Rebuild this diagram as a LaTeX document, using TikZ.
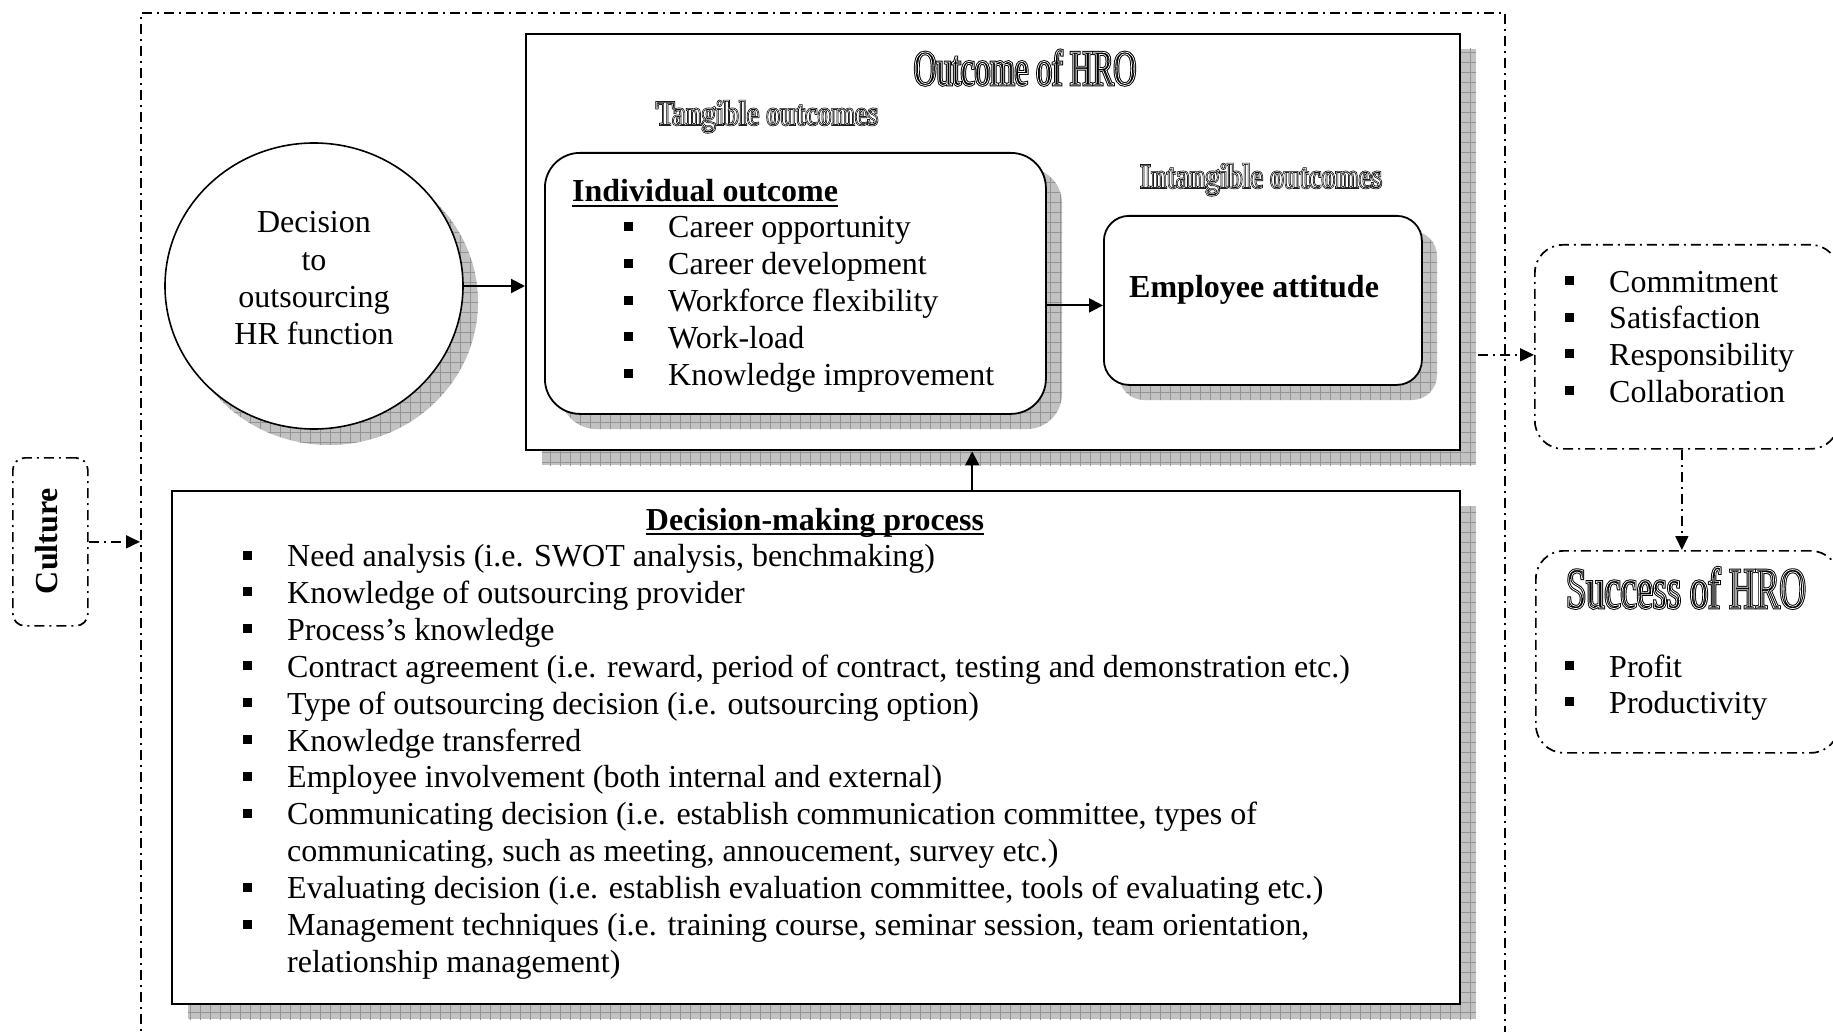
\documentclass[tikz,border=0pt]{standalone}
\usepackage{fontspec}
\setmainfont{Liberation Serif}
\newfontfamily\titlereg[FakeStretch=0.625]{Liberation Serif}
\newfontfamily\titlebold[FakeStretch=0.8]{Liberation Serif}
\usetikzlibrary{shapes.geometric,arrows.meta,patterns.meta}

% small square bullet followed by the gap before the item text
\newcommand\sqbullet{\makebox[44pt][l]{\rule[7pt]{9pt}{9pt}}}
\newcommand\noindentitem{\makebox[44pt][l]{}}
% thick underline
\newcommand\thickul[1]{\setbox0=\hbox{#1}\rlap{\rule[-5pt]{\wd0}{2pt}}\box0}
% hollow letters with a double contour: #1 outer stroke, #2 inner white stroke, #3 text
\newcommand\hollowtext[3]{\rlap{\color{white}\special{pdf:literal direct 2 Tr #1 w 0 G}#3\special{pdf:literal direct 0 Tr}}{\color{white}\special{pdf:literal direct 1 Tr #2 w 1 G}#3\special{pdf:literal direct 0 Tr}}}
\newcommand\hollow[1]{\hollowtext{2.6}{0.7}{#1}}
\newcommand\hollowsmall[1]{\hollowtext{1.8}{0.45}{#1}}

\begin{document}
\begin{tikzpicture}[x=1pt,y=-1pt,
  body/.style={inner sep=0pt, anchor=base west, font=\fontsize{32}{37}\selectfont},
  bodyc/.style={body, anchor=base},
  box/.style={draw, line width=2.4pt, fill=white, inner sep=0pt, anchor=north west},
  rbox/.style={draw, line width=1.8pt, fill=white, inner sep=0pt, anchor=north west},
  ddline/.style={line width=1.7pt, dash pattern=on 10pt off 5pt on 2pt off 5pt},
  ddbox/.style={draw, ddline, inner sep=0pt, anchor=north west},
  gridshadow/.style={fill=black!24,
    postaction={pattern={Lines[distance=10pt,angle=0,line width=0.7pt]},pattern color=black!42},
    postaction={pattern={Lines[distance=10pt,angle=90,line width=0.7pt]},pattern color=black!42}},
  arr/.style={line width=2pt, -{Triangle[length=14pt,width=14pt]}},
  ddarr/.style={ddline, -{Triangle[length=14pt,width=13pt]}},
  bigtitle/.style={inner sep=0pt, anchor=base, font=\titlereg\fontsize{#1}{#1}\selectfont},
  subtitle/.style={inner sep=0pt, anchor=base, font=\titlebold\bfseries\fontsize{35}{35}\selectfont},
]
\useasboundingbox (0,0) rectangle (1833,1032);

% outer frame
\node[ddbox, minimum width=1364pt, minimum height=1045pt] (frame) at (140,12) {};

% outcome panel
\fill[gridshadow] (542,49) rectangle (1476,465);
\node[box, minimum width=934pt, minimum height=416pt] (outbox) at (525,33) {};

% decision-making panel
\fill[gridshadow] (188,506) rectangle (1476,1019);
\node[box, minimum width=1288pt, minimum height=513pt] (dec) at (171,490) {};

% decision ellipse
\fill[gridshadow] (329,302) ellipse [x radius=149, y radius=143];
\node[draw, ellipse, line width=1.6pt, fill=white, inner sep=0pt,
      minimum width=298pt, minimum height=286pt] (ell) at (314,286) {};

% tangible / intangible boxes
\fill[gridshadow, rounded corners=35pt] (561,168) rectangle (1062,429);
\node[rbox, rounded corners=35pt, minimum width=501pt, minimum height=261pt] (indiv) at (544,152) {};
\fill[gridshadow, rounded corners=25pt] (1119,231) rectangle (1437,400);
\node[rbox, rounded corners=25pt, minimum width=318pt, minimum height=169pt] (emp) at (1103,215) {};

% dash-dotted side boxes
\node[ddbox, rounded corners=12pt, minimum width=75pt, minimum height=168pt] (cult) at (12,457) {};
\node[ddbox, rounded corners=28pt, minimum width=304pt, minimum height=204pt] (comm) at (1534,244) {};
\node[ddbox, rounded corners=28pt, minimum width=303pt, minimum height=202pt] (succ) at (1535,550) {};

% titles
\node[bigtitle=50] (t-out) at (1025,85) {\hollow{Outcome of HRO}};
\node[subtitle] (t-tan) at (767,125) {\hollowsmall{Tangible outcomes}};
\node[subtitle] (t-int) at (1261,188) {\hollowsmall{Intangible outcomes}};
\node[bigtitle=58] (t-succ) at (1686,608) {\hollow{Success of HRO}};

% ellipse text
\foreach \w [count=\i from 0, evaluate=\i as \yy using 233+37.3*\i] in {Decision, to, outsourcing, HR function}
  \node[bodyc] (e-\i) at (314,\yy) {\w};

% individual outcome
\node[body, font=\bfseries\fontsize{32}{37}\selectfont] (ind-t) at (572,202) {\thickul{Individual outcome}};
\foreach \w [count=\i from 0, evaluate=\i as \yy using 238+36.8*\i] in
  {Career opportunity, Career development, Workforce flexibility, Work-load, Knowledge improvement}
  \node[body] (ind-\i) at (624,\yy) {\sqbullet\w};

% employee attitude
\node[body, font=\bfseries\fontsize{32}{37}\selectfont] (emp-t) at (1129,298) {Employee attitude};

% attitude outcomes
\foreach \w [count=\i from 0, evaluate=\i as \yy using 292+36.7*\i] in
  {Commitment, Satisfaction, Responsibility, Collaboration}
  \node[body] (c-\i) at (1565,\yy) {\sqbullet\w};

% success measures
\node[body] (s-0) at (1565,677) {\sqbullet Profit};
\node[body] (s-1) at (1565,713) {\sqbullet Productivity};

% culture label
\node[inner sep=0pt, anchor=base, rotate=90, font=\bfseries\fontsize{32}{37}\selectfont] (cult-t) at (57,541) {Culture};

% decision-making process
\node[bodyc, font=\bfseries\fontsize{32}{37}\selectfont] (dm-t) at (815,530) {\thickul{Decision-making process}};
\foreach \w [count=\i from 0, evaluate=\i as \yy using 566.5+36.9*\i] in {
  {\sqbullet Need analysis (i.e. SWOT analysis, benchmaking)},
  {\sqbullet Knowledge of outsourcing provider},
  {\sqbullet Process’s knowledge},
  {\sqbullet Contract agreement (i.e. reward, period of contract, testing and demonstration etc.)},
  {\sqbullet Type of outsourcing decision (i.e. outsourcing option)},
  {\sqbullet Knowledge transferred},
  {\sqbullet Employee involvement (both internal and external)},
  {\sqbullet Communicating decision (i.e. establish communication committee, types of},
  {\noindentitem communicating, such as meeting, annoucement, survey etc.)},
  {\sqbullet Evaluating decision (i.e. establish evaluation committee, tools of evaluating etc.)},
  {\sqbullet Management techniques (i.e. training course, seminar session, team orientation,},
  {\noindentitem relationship management)}}
  \node[body] (dm-\i) at (243,\yy) {\w};

% connectors
\draw[arr] (ell.east) -- (ell.east -| outbox.west);
\coordinate (ea) at ([yshift=-5pt]emp.west);
\draw[arr] (ea -| indiv.east) -- (ea);
\coordinate (da) at ([xshift=156pt]dec.north);
\draw[arr] (da) -- (da |- outbox.south);
\coordinate (oe) at ([xshift=17pt]outbox.east);
\coordinate (ca) at ([yshift=-8pt]comm.west);
\draw[ddarr] (oe |- ca) -- (ca);
\coordinate (cs) at ([xshift=-5pt]comm.south);
\draw[ddarr] (cs) -- (cs |- succ.north);
\draw[ddarr] (cult.east) -- (cult.east -| frame.west);
\end{tikzpicture}
\end{document}
